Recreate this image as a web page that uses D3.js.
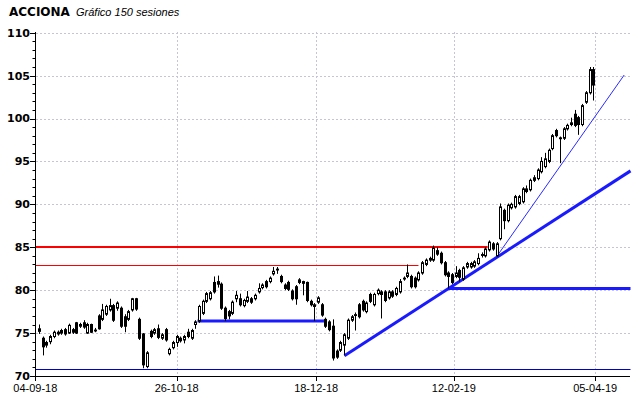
<!DOCTYPE html>
<html><head><meta charset="utf-8">
<script src="https://cdn.jsdelivr.net/npm/d3@7"></script>
<style>body{margin:0;background:#fff}svg{display:block}</style>
</head><body>
<script>
// ---- data (150 sessions) ----
const openP = [75.2,74.4,73.6,74.0,74.6,75.1,75.0,75.4,75.0,75.4,76.2,75.8,76.2,75.0,76.0,75.35,77.0,76.6,77.2,77.7,78.2,77.9,77.9,76.9,76.6,77.7,79.0,76.6,74.9,71.1,
75.2,75.0,75.5,74.4,75.4,72.6,73.3,73.9,74.4,74.2,75.1,74.4,76.0,76.4,77.3,78.7,79.0,80.9,81.0,80.7,77.9,77.5,77.3,79.0,79.0,78.2,78.7,79.0,79.0,79.8,
80.3,81.0,81.0,81.9,82.35,81.6,80.6,80.9,79.9,80.4,80.9,81.0,80.9,78.7,78.1,78.6,78.3,76.6,76.3,75.8,72.9,73.0,73.6,74.4,76.5,77.05,78.3,78.7,77.5,79.5,
78.3,79.6,79.8,79.8,79.1,79.8,79.5,79.8,81.3,81.6,81.6,81.4,81.2,82.0,83.0,83.5,83.5,84.6,84.3,83.2,82.0,81.8,81.6,82.3,81.3,82.7,82.7,82.8,83.1,84.05,
84.0,84.7,85.4,84.0,86.0,89.3,88.1,89.6,89.7,90.1,90.3,91.5,91.7,92.8,93.0,93.8,94.4,95.0,96.5,98.6,97.75,97.7,98.8,99.3,100.5,100.1,99.3,101.9,103.0,105.7];
const closeP = [75.5,73.4,73.9,74.6,75.1,74.9,75.3,74.9,75.9,75.1,75.0,76.0,75.7,76.0,75.1,75.25,75.5,77.7,78.1,78.2,76.5,78.5,75.8,75.8,77.5,79.0,77.8,74.4,71.3,72.7,
74.6,75.4,74.5,74.8,74.2,73.1,73.9,74.6,74.1,74.6,74.6,75.3,76.3,78.1,78.7,79.6,79.7,79.8,80.7,77.9,76.7,77.0,78.6,79.4,78.3,78.8,79.2,78.6,79.4,80.2,
80.6,80.4,81.4,82.2,82.45,81.0,80.2,80.1,79.0,79.0,81.2,80.8,78.8,78.3,78.3,79.1,77.1,75.8,75.4,72.1,72.2,73.9,74.8,76.5,76.9,77.15,76.9,77.7,78.5,78.7,
79.5,80.0,79.5,78.8,79.8,79.3,80.2,81.0,81.4,82.0,80.4,80.4,82.0,83.2,83.5,83.7,84.9,84.2,83.2,81.8,81.6,80.9,82.0,81.5,82.6,83.1,83.1,83.3,83.7,84.15,
84.8,85.6,84.8,85.4,89.7,88.1,89.9,90.0,90.9,90.9,91.8,91.8,92.8,93.1,94.0,95.0,95.3,96.3,98.0,98.0,97.65,98.8,99.2,99.5,99.2,99.3,101.5,103.0,105.7,103.9];
const highP = [76.0,74.6,74.1,74.8,75.3,75.3,75.5,75.6,76.1,75.6,76.3,76.2,76.5,76.2,76.1,75.6,77.2,78.4,78.3,79.0,78.4,78.7,78.1,77.2,77.7,79.1,79.1,76.8,75.0,72.9,
75.4,75.6,76.0,75.0,75.6,73.3,74.1,74.8,74.6,74.8,75.5,75.5,76.5,78.3,78.9,79.8,79.9,81.6,81.7,80.9,78.1,77.7,78.8,79.9,79.6,79.0,79.9,79.2,79.6,80.8,
80.8,81.2,81.6,82.7,82.7,81.8,80.8,81.1,80.1,80.6,81.4,81.1,81.0,78.9,78.5,79.3,78.5,76.8,76.5,76.6,73.1,74.1,75.0,76.7,77.1,77.4,78.5,78.9,78.7,79.7,
79.7,80.2,80.0,80.0,80.0,80.0,80.4,81.3,81.6,83.0,81.8,81.6,82.2,83.4,83.7,83.9,85.2,85.0,84.5,83.4,82.2,82.0,82.8,82.5,82.8,83.3,83.3,83.5,84.3,84.4,
85.0,85.8,85.6,85.6,90.1,89.5,90.1,90.2,91.1,91.1,92.0,92.2,93.0,93.4,94.2,95.5,96.0,96.5,98.2,98.8,97.9,99.0,99.4,100.1,101.0,100.3,101.7,103.2,106.0,106.0];
const lowP = [74.9,72.4,73.3,73.7,74.4,74.7,74.8,74.7,74.9,74.9,74.9,75.6,75.5,74.9,75.0,75.1,75.4,76.4,77.0,77.5,76.3,77.6,75.6,75.1,76.4,77.5,77.6,74.2,70.9,70.9,
74.4,74.8,74.3,74.2,74.0,72.4,73.1,73.4,73.9,73.8,74.4,74.2,75.5,76.2,77.1,78.5,78.8,79.6,80.3,77.7,76.4,76.6,77.1,78.6,78.1,78.0,78.5,78.4,78.8,79.6,
80.1,80.2,80.8,81.7,81.9,80.8,80.0,79.9,78.8,78.3,80.7,79.4,78.6,78.1,76.4,78.4,76.9,75.6,75.2,71.8,72.0,72.8,72.4,74.2,76.3,75.3,76.7,77.5,77.3,78.5,
78.1,79.4,76.7,78.6,78.9,79.1,79.3,79.6,81.1,81.4,80.2,80.2,81.0,81.8,82.8,83.3,83.3,84.0,83.0,81.6,80.2,80.7,81.4,81.0,81.1,82.5,82.5,82.6,82.9,83.8,
83.8,84.5,84.6,83.9,85.8,87.1,87.9,89.4,89.5,89.9,90.1,91.3,91.5,92.6,92.8,93.6,94.2,94.8,96.3,97.8,94.8,97.5,98.6,99.1,99.0,98.1,99.1,101.7,102.8,102.1];

const yTicks = [70,75,80,85,90,95,100,105,110];
const xTickIdx = [-1, 37, 74.5, 111.5, 149.5];
const xTickLabels = ["04-09-18","26-10-18","18-12-18","12-02-19","05-04-19"];

// horizontal levels: [value, fromIndex, toIndex, width]
const redLevels = [[85.0,-1,120.6,2],[82.9,-1,102,1]];
const blueLevels = [[76.4,42.6,76.6],[80.2,110,159]];
const floorLevel = [[70.8,-1,159]];
// trend lines: [i1, v1, i2, v2]
const thickTrend = [[82.1,72.35,159,93.9]];
const thinTrend = [[123,83.9,157.3,105.07]];

// ---- chart ----
const W = 640, H = 398;
const svg = d3.select("body").append("svg").attr("width",W).attr("height",H);
const x = d3.scaleLinear().domain([-1,159]).range([35.3,630.5]);
const y = d3.scaleLinear().domain([70,110]).range([376,32.7]);
const px = v => Math.round(v)+0.5;

// title
svg.append("text").attr("x",9).attr("y",16).text("ACCIONA")
  .attr("font-family","DejaVu Sans").attr("font-weight","bold").attr("font-size",12);
svg.append("text").attr("x",76).attr("y",16).text("Gráfico 150 sesiones")
  .attr("font-family","Liberation Sans").attr("font-style","italic").attr("font-size",11);

// grid
const grid = svg.append("g").attr("stroke","#c8c4d8").attr("stroke-dasharray","2,2").attr("stroke-width",1);
yTicks.filter(v=>v>70).forEach(v=>grid.append("line").attr("x1",36).attr("x2",630).attr("y1",px(y(v))).attr("y2",px(y(v))));
xTickIdx.slice(1).forEach(i=>grid.append("line").attr("x1",px(x(i))).attr("x2",px(x(i))).attr("y1",32).attr("y2",376));

// levels
const lv = svg.append("g");
redLevels.forEach(d=>lv.append("line").attr("x1",x(d[1])).attr("x2",x(d[2]))
  .attr("y1",d[3]===1?px(y(d[0])):Math.round(y(d[0]))).attr("y2",d[3]===1?px(y(d[0])):Math.round(y(d[0])))
  .attr("stroke","#ff0000").attr("stroke-width",d[3]));
floorLevel.forEach(d=>lv.append("line").attr("x1",x(d[1])).attr("x2",x(d[2])).attr("y1",px(y(d[0]))).attr("y2",px(y(d[0]))).attr("stroke","#0000cc").attr("stroke-width",1));
blueLevels.forEach(d=>lv.append("line").attr("x1",x(d[1])).attr("x2",x(d[2])).attr("y1",y(d[0])).attr("y2",y(d[0])).attr("stroke","#1a1aff").attr("stroke-width",3));
thickTrend.forEach(d=>lv.append("line").attr("x1",x(d[0])).attr("y1",y(d[1])).attr("x2",x(d[2])).attr("y2",y(d[3])).attr("stroke","#1a1aff").attr("stroke-width",3));
thinTrend.forEach(d=>lv.append("line").attr("x1",x(d[0])).attr("y1",y(d[1])).attr("x2",x(d[2])).attr("y2",y(d[3])).attr("stroke","#2a2aff").attr("stroke-width",1));

// candles
const idx = d3.range(openP.length);
const cg = svg.append("g");
cg.selectAll("line.w").data(idx).join("line")
  .attr("x1",i=>px(x(i))).attr("x2",i=>px(x(i)))
  .attr("y1",i=>y(highP[i])).attr("y2",i=>y(lowP[i]))
  .attr("stroke","#000").attr("stroke-width",1);
cg.selectAll("rect").data(idx).join("rect")
  .attr("x",i=>px(x(i))-1).attr("width",2)
  .attr("y",i=>y(Math.max(openP[i],closeP[i])))
  .attr("height",i=>Math.max(0.5,Math.abs(y(openP[i])-y(closeP[i]))))
  .attr("fill",i=>closeP[i]>=openP[i]?"#fff":"#000")
  .attr("stroke","#000").attr("stroke-width",1);

// axes
const ax = svg.append("g").attr("stroke","#000").attr("stroke-width",1);
ax.append("line").attr("x1",35.5).attr("x2",35.5).attr("y1",32).attr("y2",377);
ax.append("line").attr("x1",35).attr("x2",630).attr("y1",376.5).attr("y2",376.5);
d3.range(70,111,1).forEach(v=>{
  const major = v%5===0;
  ax.append("line").attr("x1",major?30:32.5).attr("x2",35).attr("y1",px(y(v))).attr("y2",px(y(v)));
});
xTickIdx.forEach(i=>ax.append("line").attr("x1",px(x(i))).attr("x2",px(x(i))).attr("y1",376).attr("y2",381));

svg.append("g").selectAll("text").data(yTicks).join("text")
  .attr("x",30).attr("y",v=>y(v)).attr("dy","0.36em").attr("text-anchor","end")
  .attr("font-family","DejaVu Sans").attr("font-weight","bold").attr("font-size",11).attr("fill","#000")
  .text(v=>v);
svg.append("g").selectAll("text").data(xTickIdx).join("text")
  .attr("x",i=>x(i)).attr("y",392).attr("text-anchor","middle")
  .attr("font-family","Liberation Sans").attr("font-size",11).attr("fill","#000")
  .text((i,k)=>xTickLabels[k]);
</script>
</body></html>
